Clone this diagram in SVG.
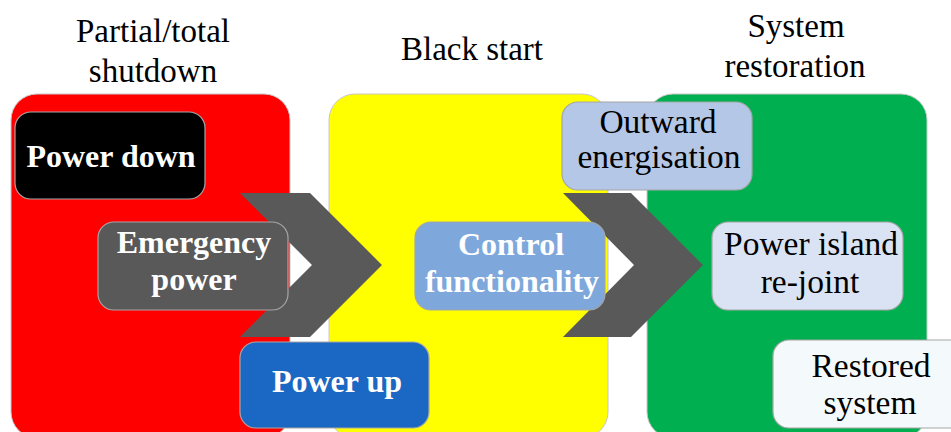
<svg xmlns="http://www.w3.org/2000/svg" width="951" height="432" viewBox="0 0 951 432">
<style>
.t{font-family:"Liberation Serif","DejaVu Serif",serif;text-anchor:middle}
.title{font-size:33px;fill:#000}
.b{font-size:32px;font-weight:bold;fill:#fff}
.r{font-size:33.5px;fill:#000}
.panel{stroke:#c8c8c8;stroke-width:1}
.box{stroke:#a6a6a6;stroke-width:1.2}
.chev{fill:#595959}
</style>
<rect width="951" height="432" fill="#fff"/>
<g id="titles">
<text class="t title" x="153" y="42">Partial/total</text>
<text class="t title" x="153" y="82">shutdown</text>
<text class="t title" x="472" y="60">Black start</text>
<text class="t title" x="796" y="37">System</text>
<text class="t title" x="795" y="77" font-size="34">restoration</text>
</g>
<g id="panel-shutdown"><rect class="panel" x="11" y="94" width="279" height="344" rx="26" fill="#ff0000"/></g>
<g id="panel-blackstart"><rect class="panel" x="329" y="94" width="279" height="344" rx="26" fill="#ffff00"/></g>
<g id="panel-restoration"><rect class="panel" x="647" y="94" width="280" height="344" rx="26" fill="#00b050"/></g>
<g id="connectors">
<polygon class="chev" points="240,193 310,193 382,265 310,337 240,337 312,265"/>
<polygon class="chev" points="563,193 631,193 703,265 631,337 563,337 634,265"/>
</g>
<g id="power-down">
<rect class="box" x="15" y="112" width="190" height="87" rx="16" fill="#000"/>
<text class="t b" x="111" y="167">Power down</text>
</g>
<g id="emergency-power">
<rect class="box" x="98" y="222" width="190" height="88" rx="16" fill="#595959"/>
<text class="t b" x="194" y="253">Emergency</text>
<text class="t b" x="194" y="290">power</text>
</g>
<g id="power-up">
<rect class="box" x="240" y="342" width="189" height="86" rx="16" fill="#1a68c3"/>
<text class="t b" x="337" y="392">Power up</text>
</g>
<g id="control-functionality">
<rect class="box" x="415" y="222" width="190" height="88" rx="16" fill="#7ea7db"/>
<text class="t b" x="511" y="255">Control</text>
<text class="t b" x="512" y="292">functionality</text>
</g>
<g id="outward-energisation">
<rect class="box" x="562" y="102" width="190" height="88" rx="16" fill="#b4c7e7"/>
<text class="t r" x="658" y="133">Outward</text>
<text class="t r" x="659" y="168">energisation</text>
</g>
<g id="power-island">
<rect class="box" x="712" y="222" width="191" height="88" rx="16" fill="#dae3f3"/>
<text class="t r" x="811" y="255">Power island</text>
<text class="t r" x="810" y="293">re-joint</text>
</g>
<g id="restored-system">
<rect class="box" x="773" y="340" width="195" height="88" rx="16" fill="#f4f9fc"/>
<text class="t r" x="871" y="377">Restored</text>
<text class="t r" x="870" y="414">system</text>
</g>
</svg>
